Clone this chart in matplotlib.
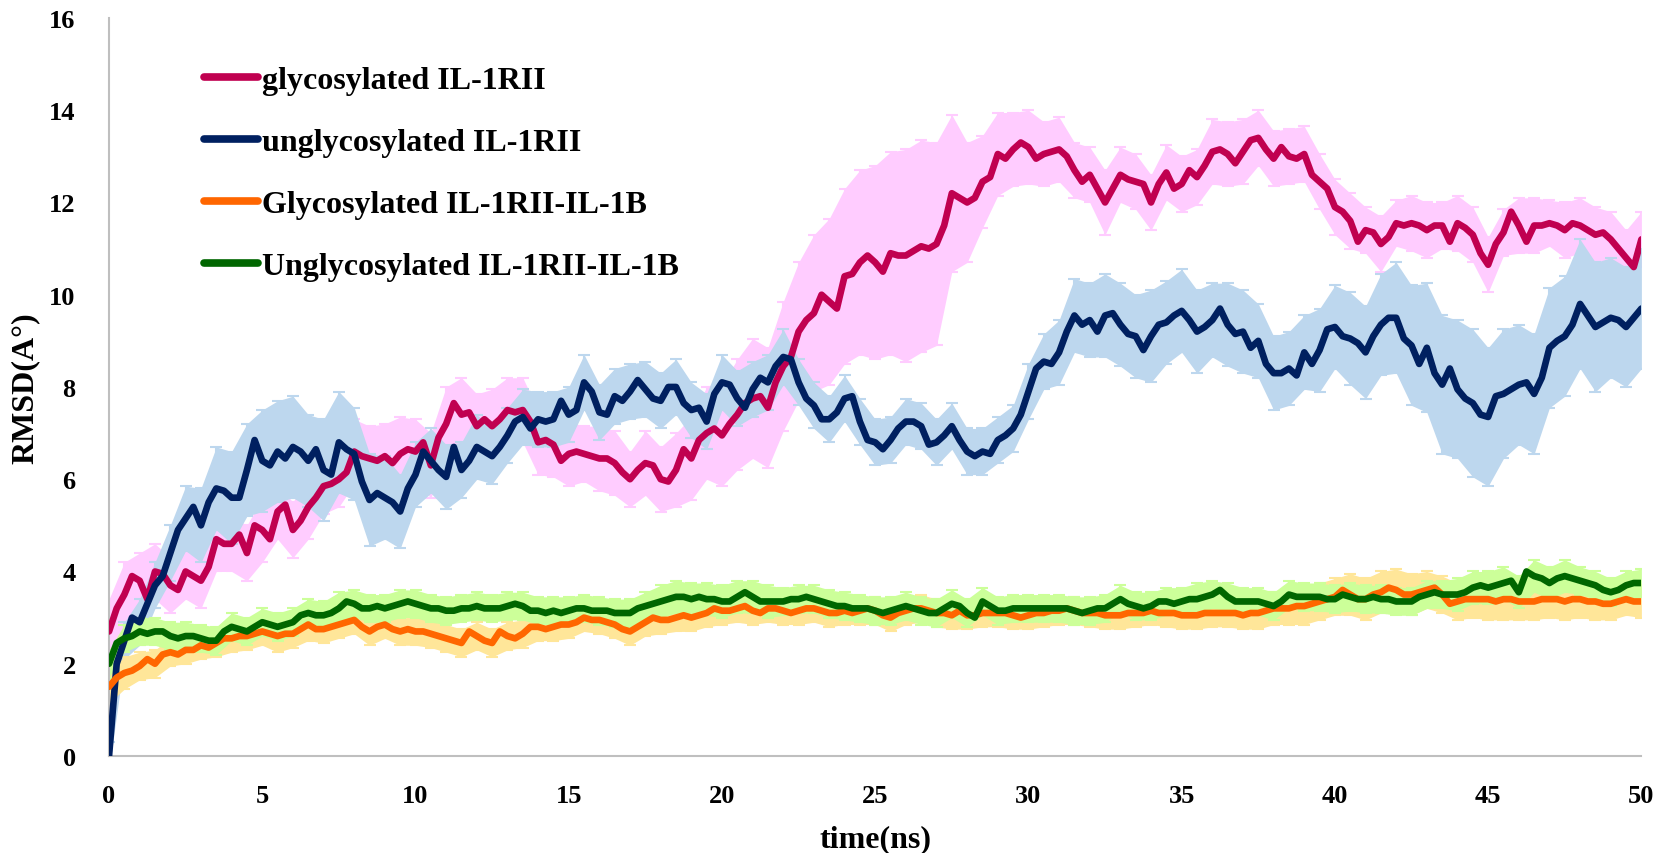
import numpy as np
import matplotlib
matplotlib.use('Agg')
import matplotlib.pyplot as plt
from matplotlib import rcParams

# Times-like bold font
rcParams['font.family'] = ['Liberation Serif', 'DejaVu Serif']
rcParams['font.weight'] = 'bold'

# time axis (ns): lines every 0.25 ns, error bars every 0.5 ns
time = np.arange(0, 50.001, 0.25)
time_err = np.arange(0, 50.001, 0.5)

labels = ['glycosylated IL-1RII', 'unglycosylated IL-1RII',
          'Glycosylated IL-1RII-IL-1B', 'Unglycosylated IL-1RII-IL-1B']

glyco = [
    2.7, 3.2, 3.5, 3.9, 3.8, 3.4, 4.0, 3.95,
    3.7, 3.6, 4.0, 3.9, 3.8, 4.1, 4.7, 4.6,
    4.6, 4.8, 4.4, 5.0, 4.9, 4.7, 5.3, 5.45,
    4.9, 5.1, 5.4, 5.6, 5.85, 5.9, 6.0, 6.15,
    6.6, 6.5, 6.45, 6.4, 6.5, 6.35, 6.55, 6.65,
    6.6, 6.8, 6.3, 6.9, 7.2, 7.65, 7.4, 7.45,
    7.15, 7.3, 7.15, 7.3, 7.5, 7.45, 7.5, 7.25,
    6.8, 6.85, 6.75, 6.4, 6.55, 6.6, 6.55, 6.5,
    6.45, 6.45, 6.35, 6.15, 6.0, 6.2, 6.35, 6.3,
    6.0, 5.95, 6.2, 6.65, 6.45, 6.85, 7.0, 7.1,
    6.95, 7.2, 7.4, 7.65, 7.75, 7.8, 7.55, 8.1,
    8.45, 8.65, 9.2, 9.45, 9.6, 10.0, 9.85, 9.7,
    10.4, 10.45, 10.7, 10.85, 10.7, 10.5, 10.9, 10.85,
    10.85, 10.95, 11.05, 11.0, 11.1, 11.5, 12.2, 12.1,
    12.0, 12.1, 12.45, 12.55, 13.05, 12.95, 13.15, 13.3,
    13.2, 12.95, 13.05, 13.1, 13.15, 13.0, 12.7, 12.45,
    12.6, 12.3, 12.0, 12.3, 12.6, 12.5, 12.45, 12.4,
    12.0, 12.4, 12.65, 12.3, 12.4, 12.7, 12.55, 12.8,
    13.1, 13.15, 13.05, 12.85, 13.1, 13.35, 13.4, 13.15,
    12.95, 13.2, 13.0, 12.95, 13.05, 12.6, 12.45, 12.3,
    11.9, 11.8, 11.6, 11.15, 11.4, 11.35, 11.1, 11.25,
    11.55, 11.5, 11.55, 11.5, 11.4, 11.5, 11.5, 11.15,
    11.55, 11.45, 11.3, 10.9, 10.65, 11.1, 11.35, 11.8,
    11.5, 11.15, 11.5, 11.5, 11.55, 11.5, 11.4, 11.55,
    11.5, 11.4, 11.3, 11.35, 11.2, 11.0, 10.8, 10.6,
    11.2]

unglyco = [
    0.0, 2.0, 2.5, 3.0, 2.9, 3.3, 3.7, 3.9,
    4.4, 4.9, 5.15, 5.4, 5.0, 5.5, 5.8, 5.75,
    5.6, 5.6, 6.2, 6.85, 6.4, 6.3, 6.6, 6.45,
    6.7, 6.6, 6.4, 6.65, 6.2, 6.1, 6.8, 6.65,
    6.55, 5.95, 5.55, 5.7, 5.6, 5.5, 5.3, 5.8,
    6.1, 6.6, 6.4, 6.2, 6.05, 6.7, 6.2, 6.4,
    6.7, 6.6, 6.5, 6.7, 6.95, 7.25, 7.35, 7.1,
    7.3, 7.25, 7.3, 7.7, 7.4, 7.5, 8.1, 7.9,
    7.45, 7.4, 7.8, 7.7, 7.9, 8.15, 7.95, 7.75,
    7.7, 8.0, 8.0, 7.65, 7.5, 7.55, 7.25, 7.85,
    8.1, 8.05, 7.75, 7.55, 7.95, 8.2, 8.1, 8.45,
    8.65, 8.6, 8.1, 7.75, 7.6, 7.3, 7.3, 7.45,
    7.75, 7.8, 7.25, 6.85, 6.8, 6.65, 6.85, 7.1,
    7.25, 7.25, 7.15, 6.75, 6.8, 6.95, 7.15, 6.85,
    6.6, 6.5, 6.6, 6.55, 6.85, 6.95, 7.1, 7.4,
    7.9, 8.4, 8.55, 8.5, 8.75, 9.2, 9.55, 9.35,
    9.45, 9.2, 9.55, 9.6, 9.35, 9.15, 9.1, 8.8,
    9.1, 9.35, 9.4, 9.55, 9.65, 9.45, 9.2, 9.3,
    9.45, 9.7, 9.35, 9.15, 9.2, 8.85, 9.0, 8.5,
    8.3, 8.3, 8.4, 8.25, 8.75, 8.5, 8.8, 9.25,
    9.3, 9.1, 9.05, 8.95, 8.75, 9.1, 9.35, 9.5,
    9.5, 9.05, 8.9, 8.5, 8.85, 8.3, 8.05, 8.4,
    7.95, 7.75, 7.65, 7.4, 7.35, 7.8, 7.85, 7.95,
    8.05, 8.1, 7.85, 8.2, 8.85, 9.0, 9.1, 9.35,
    9.8, 9.55, 9.3, 9.4, 9.5, 9.45, 9.3, 9.5,
    9.7]

glyco_cplx = [
    1.5, 1.7, 1.8, 1.85, 1.95, 2.1, 2.0, 2.2,
    2.25, 2.2, 2.3, 2.3, 2.4, 2.35, 2.45, 2.55,
    2.55, 2.6, 2.6, 2.65, 2.7, 2.65, 2.6, 2.65,
    2.65, 2.75, 2.85, 2.75, 2.75, 2.8, 2.85, 2.9,
    2.95, 2.8, 2.7, 2.8, 2.85, 2.75, 2.7, 2.75,
    2.7, 2.7, 2.65, 2.6, 2.55, 2.5, 2.45, 2.7,
    2.6, 2.5, 2.45, 2.7, 2.6, 2.55, 2.65, 2.8,
    2.8, 2.75, 2.8, 2.85, 2.85, 2.9, 3.0, 2.95,
    2.95, 2.9, 2.85, 2.75, 2.7, 2.8, 2.9, 3.0,
    2.95, 2.95, 3.0, 3.05, 3.0, 3.05, 3.1, 3.2,
    3.15, 3.15, 3.2, 3.25, 3.15, 3.1, 3.2, 3.2,
    3.15, 3.1, 3.15, 3.2, 3.2, 3.15, 3.1, 3.1,
    3.15, 3.1, 3.15, 3.2, 3.15, 3.05, 3.0, 3.1,
    3.15, 3.2, 3.2, 3.15, 3.1, 3.1, 3.05, 3.15,
    3.05, 3.05, 3.1, 3.1, 3.1, 3.1, 3.05, 3.0,
    3.05, 3.1, 3.1, 3.15, 3.15, 3.2, 3.15, 3.1,
    3.1, 3.1, 3.05, 3.05, 3.05, 3.1, 3.1, 3.1,
    3.15, 3.1, 3.1, 3.1, 3.05, 3.05, 3.05, 3.1,
    3.1, 3.1, 3.1, 3.1, 3.05, 3.1, 3.1, 3.15,
    3.2, 3.2, 3.2, 3.25, 3.25, 3.3, 3.35, 3.4,
    3.45, 3.6, 3.5, 3.4, 3.4, 3.5, 3.55, 3.65,
    3.6, 3.5, 3.5, 3.55, 3.6, 3.65, 3.5, 3.3,
    3.35, 3.4, 3.4, 3.4, 3.4, 3.35, 3.4, 3.4,
    3.35, 3.35, 3.35, 3.4, 3.4, 3.4, 3.35, 3.4,
    3.4, 3.35, 3.35, 3.3, 3.3, 3.35, 3.4, 3.35,
    3.35]

unglyco_cplx = [
    2.0, 2.45, 2.55, 2.6, 2.7, 2.65, 2.7, 2.7,
    2.6, 2.55, 2.6, 2.6, 2.55, 2.5, 2.5, 2.7,
    2.8, 2.75, 2.7, 2.8, 2.9, 2.85, 2.8, 2.85,
    2.9, 3.05, 3.1, 3.05, 3.05, 3.1, 3.2, 3.35,
    3.3, 3.2, 3.2, 3.25, 3.2, 3.25, 3.3, 3.35,
    3.3, 3.25, 3.2, 3.2, 3.15, 3.15, 3.2, 3.2,
    3.25, 3.2, 3.2, 3.2, 3.25, 3.3, 3.25, 3.15,
    3.15, 3.1, 3.15, 3.1, 3.15, 3.2, 3.2, 3.15,
    3.15, 3.15, 3.1, 3.1, 3.1, 3.2, 3.25, 3.3,
    3.35, 3.4, 3.45, 3.45, 3.4, 3.45, 3.4, 3.4,
    3.35, 3.35, 3.45, 3.55, 3.45, 3.35, 3.35, 3.35,
    3.35, 3.4, 3.4, 3.45, 3.4, 3.35, 3.3, 3.25,
    3.25, 3.2, 3.2, 3.2, 3.15, 3.1, 3.15, 3.2,
    3.25, 3.2, 3.15, 3.1, 3.1, 3.2, 3.3, 3.25,
    3.1, 3.0, 3.35, 3.25, 3.15, 3.15, 3.2, 3.2,
    3.2, 3.2, 3.2, 3.2, 3.2, 3.2, 3.15, 3.1,
    3.15, 3.2, 3.2, 3.3, 3.4, 3.3, 3.25, 3.2,
    3.25, 3.35, 3.35, 3.3, 3.35, 3.4, 3.4, 3.45,
    3.5, 3.6, 3.45, 3.35, 3.35, 3.35, 3.35, 3.3,
    3.25, 3.35, 3.5, 3.45, 3.45, 3.45, 3.45, 3.4,
    3.4, 3.5, 3.45, 3.4, 3.4, 3.45, 3.4, 3.4,
    3.35, 3.35, 3.35, 3.45, 3.5, 3.55, 3.5, 3.5,
    3.5, 3.55, 3.65, 3.7, 3.65, 3.7, 3.75, 3.8,
    3.55, 4.0, 3.9, 3.85, 3.75, 3.85, 3.9, 3.85,
    3.8, 3.75, 3.7, 3.6, 3.55, 3.6, 3.7, 3.75,
    3.75]

# error bar half-widths, every 0.5 ns
glyco_err = [
    0.7, 0.7, 0.6, 0.6,  0.6, 0.6, 0.6, 0.7,  0.6, 0.6, 0.7, 0.6,
    0.6, 0.7, 0.6, 0.6,  0.7, 0.7, 0.7, 0.8,  0.7, 0.7, 0.8, 0.8,
    0.7, 0.8, 0.7, 0.7,  0.7, 0.7, 0.7, 0.6,  0.7, 0.7, 0.6, 0.7,
    0.7, 0.8, 0.9, 1.0,  1.1, 1.2, 1.3, 1.3,  1.4, 1.5, 1.7, 1.8,
    1.9, 2.0, 2.1, 2.2,  2.3, 2.3, 2.2, 1.7,  1.3, 1.0, 0.9, 0.8,
    0.8, 0.7, 0.7, 0.6,  0.6, 0.7, 0.6, 0.6,  0.6, 0.6, 0.6, 0.6,
    0.7, 0.7, 0.7, 0.6,  0.6, 0.6, 0.6, 0.6,  0.6, 0.6, 0.5, 0.6,
    0.5, 0.6, 0.6, 0.5,  0.6, 0.6, 0.6, 0.5,  0.6, 0.6, 0.5, 0.6,
    0.6, 0.6, 0.6, 0.6,  0.6]

unglyco_err = [
    0.3, 0.4, 0.5, 0.5,  0.6, 0.7, 0.8, 0.9,  1.0, 1.0, 1.1, 1.1,
    1.1, 1.0, 1.1, 1.1,  1.0, 1.0, 0.9, 0.8,  0.7, 0.7, 0.7, 0.6,
    0.7, 0.6, 0.6, 0.6,  0.6, 0.6, 0.6, 0.6,  0.6, 0.6, 0.6, 0.6,
    0.6, 0.6, 0.6, 0.6,  0.6, 0.6, 0.6, 0.6,  0.6, 0.5, 0.5, 0.5,
    0.5, 0.5, 0.5, 0.5,  0.5, 0.5, 0.5, 0.5,  0.5, 0.5, 0.5, 0.5,
    0.6, 0.6, 0.7, 0.8,  0.8, 0.9, 0.9, 0.9,  1.0, 0.9, 0.9, 0.9,
    0.8, 0.9, 0.9, 0.8,  0.8, 0.8, 0.8, 0.9,  0.9, 1.0, 1.0, 1.1,
    1.2, 1.3, 1.4, 1.5,  1.5, 1.6, 1.5, 1.4,  1.3, 1.3, 1.3, 1.3,
    1.4, 1.4, 1.3, 1.3,  1.3]

glyco_cplx_err = [
    0.35, 0.35, 0.3, 0.3,  0.3, 0.3, 0.3, 0.3,  0.3, 0.3, 0.3, 0.35,
    0.3, 0.35, 0.3, 0.3,  0.3, 0.3, 0.3, 0.3,  0.3, 0.3, 0.3, 0.3,
    0.3, 0.3, 0.3, 0.3,  0.3, 0.3, 0.3, 0.3,  0.3, 0.3, 0.3, 0.3,
    0.3, 0.3, 0.3, 0.3,  0.3, 0.3, 0.3, 0.3,  0.3, 0.3, 0.3, 0.3,
    0.3, 0.3, 0.3, 0.3,  0.3, 0.3, 0.3, 0.3,  0.3, 0.3, 0.3, 0.3,
    0.3, 0.3, 0.3, 0.3,  0.3, 0.3, 0.3, 0.3,  0.3, 0.3, 0.3, 0.3,
    0.3, 0.3, 0.3, 0.35,  0.35, 0.35, 0.4, 0.4,  0.4, 0.45, 0.45, 0.45,
    0.45, 0.45, 0.4, 0.4,  0.4, 0.4, 0.45, 0.45,  0.4, 0.4, 0.4, 0.4,
    0.4, 0.4, 0.35, 0.35,  0.35]

unglyco_cplx_err = [
    0.3, 0.3, 0.3, 0.3,  0.3, 0.3, 0.3, 0.3,  0.3, 0.3, 0.3, 0.3,
    0.3, 0.3, 0.3, 0.35,  0.3, 0.3, 0.3, 0.3,  0.3, 0.3, 0.3, 0.3,
    0.3, 0.3, 0.3, 0.3,  0.3, 0.3, 0.3, 0.3,  0.3, 0.3, 0.3, 0.3,
    0.35, 0.35, 0.35, 0.35,  0.35, 0.35, 0.35, 0.35,  0.3, 0.3, 0.3, 0.3,
    0.3, 0.3, 0.3, 0.3,  0.3, 0.3, 0.3, 0.3,  0.3, 0.3, 0.3, 0.3,
    0.3, 0.3, 0.3, 0.3,  0.3, 0.3, 0.3, 0.3,  0.3, 0.3, 0.3, 0.35,
    0.3, 0.3, 0.3, 0.3,  0.3, 0.3, 0.3, 0.3,  0.3, 0.3, 0.3, 0.3,
    0.3, 0.3, 0.3, 0.3,  0.35, 0.35, 0.35, 0.35,  0.35, 0.35, 0.35, 0.35,
    0.3, 0.3, 0.3, 0.3,  0.3]

line_colors = ['#C00050', '#002060', '#FF6600', '#006600']
band_colors = ['#FFCCFF', '#BDD7EE', '#FFE699', '#CCFF99']
series = [glyco, unglyco, glyco_cplx, unglyco_cplx]
errors = [glyco_err, unglyco_err, glyco_cplx_err, unglyco_cplx_err]

fig = plt.figure(figsize=(16.62, 8.54), dpi=100)
ax = fig.add_axes([0.0656, 0.1136, 0.922, 0.8642])

# error bands first (behind all lines)
for vals, err, bc in zip(series, errors, band_colors):
    v = np.array(vals)[::2]
    e = np.array(err)
    ax.fill_between(time_err, v - e, v + e, color=bc, lw=0, zorder=1)
    ax.errorbar(time_err, v, yerr=e, fmt='none', ecolor=bc,
                elinewidth=1.5, capsize=4, capthick=1.5, zorder=1)

# lines
for vals, lc, lab in zip(series, line_colors, labels):
    ax.plot(time, vals, color=lc, lw=4.8, label=lab, zorder=3,
            solid_joinstyle='round', solid_capstyle='round')

ax.set_xlim(0, 50)
ax.set_ylim(0, 16)
ax.set_xticks(range(0, 51, 5))
ax.set_yticks(range(0, 17, 2))
ax.tick_params(length=0, labelsize=19, pad=20)
ax.tick_params(axis='y', pad=24)
for lab in ax.get_xticklabels() + ax.get_yticklabels():
    lab.set_fontweight('bold')

for s in ['top', 'right']:
    ax.spines[s].set_visible(False)
for s in ['left', 'bottom']:
    ax.spines[s].set_color('#BFBFBF')
    ax.spines[s].set_linewidth(1.5)

ax.set_xlabel('time(ns)', fontsize=23, fontweight='bold')
ax.set_ylabel('RMSD(A°)', fontsize=23, fontweight='bold')
ax.xaxis.set_label_coords(0.5, -0.092)
ax.yaxis.set_label_coords(-0.045, 0.5)

leg = ax.legend(loc='upper left', bbox_to_anchor=(0.115, 0.937),
                bbox_transform=fig.transFigure, frameon=False,
                fontsize=23, handlelength=1.7, handletextpad=0.12,
                labelspacing=1.02, borderaxespad=0)
for line in leg.get_lines():
    line.set_linewidth(5.5)
for txt in leg.get_texts():
    txt.set_fontweight('bold')

fig.savefig('out.png', dpi=100)
